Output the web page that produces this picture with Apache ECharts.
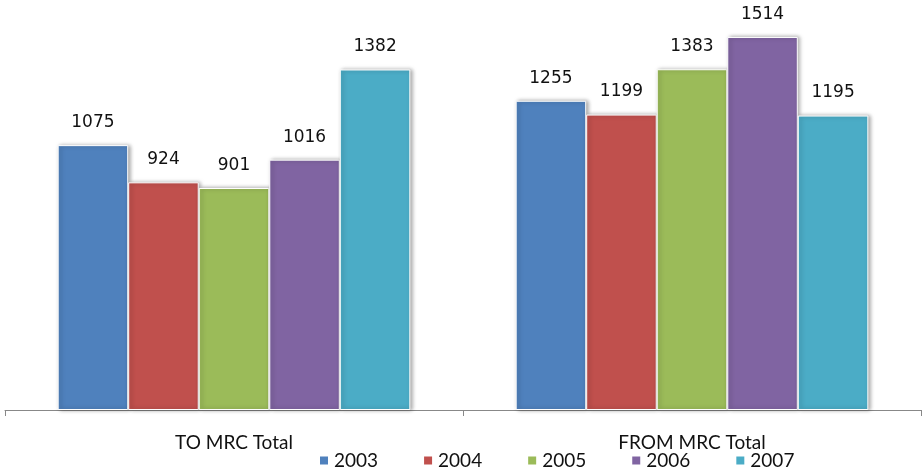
<!DOCTYPE html>
<html lang="en">

<head>
  <meta charset="UTF-8">
  <title>MRC Totals</title>
  <style>
    html, body {
      margin: 0;
      width: 100%;
      height: 100%;
      background: #fff;
    }

    .chart {
      width: 924px;
      height: 474px;
    }
  </style>
</head>

<body>
  <div id="chart" class="chart"></div>

  <script src="https://cdn.jsdelivr.net/npm/echarts@6/dist/echarts.min.js"></script>
  <script>
    // categories and yearly series
    var categories = ['TO MRC Total', 'FROM MRC Total'];
    var years = ['2003', '2004', '2005', '2006', '2007'];
    var values2003 = [1075, 1255];
    var values2004 = [924, 1199];
    var values2005 = [901, 1383];
    var values2006 = [1016, 1514];
    var values2007 = [1382, 1195];
    var colors = ['#4F81BD', '#C0504D', '#9BBB59', '#8064A2', '#4BACC6'];

    var allValues = [values2003, values2004, values2005, values2006, values2007];

    var myChart = echarts.init(document.getElementById('chart'));

    var series = [];
    for (var i = 0; i < years.length; i++) {
      series.push({
        name: years[i],
        type: 'bar',
        data: allValues[i],
        barGap: '0%',
        barCategoryGap: '23%',
        itemStyle: {
          color: colors[i],
          borderColor: '#fff',
          borderWidth: 1,
          shadowColor: 'rgba(0,0,0,0.35)',
          shadowBlur: 4,
          shadowOffsetX: 2,
          shadowOffsetY: 0
        },
        label: {
          show: true,
          position: 'top',
          distance: 14,
          color: '#111',
          fontFamily: 'DejaVu Sans',
          fontSize: 17
        }
      });
    }

    var option = {
      animation: false,
      color: colors,
      legend: {
        data: years,
        bottom: -1,
        left: 313,
        itemWidth: 10,
        itemHeight: 10,
        itemGap: 44,
        icon: 'rect',
        textStyle: {
          fontFamily: 'Lato',
          fontSize: 19,
          color: '#111'
        }
      },
      grid: {
        left: 5,
        right: 3,
        top: 0,
        bottom: 64,
        containLabel: false
      },
      xAxis: {
        type: 'category',
        data: categories,
        axisLine: { lineStyle: { color: '#888', width: 1 } },
        axisTick: { show: true, length: 6, lineStyle: { color: '#888' } },
        axisLabel: {
          margin: 23,
          fontFamily: 'Lato',
          fontSize: 19,
          color: '#111'
        }
      },
      yAxis: {
        type: 'value',
        min: 0,
        max: 1664,
        show: false,
        splitLine: { show: false }
      },
      series: series
    };

    myChart.setOption(option);
  </script>
</body>

</html>
